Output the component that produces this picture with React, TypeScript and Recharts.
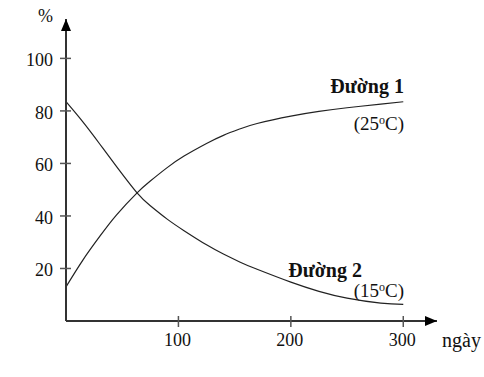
import React from 'react'
import { LineChart, Line, XAxis, YAxis } from 'recharts'

// days on the x axis, percent on the y axis
const days = [0, 15, 30, 45, 63, 75, 90, 105, 125, 140, 155, 170, 200, 225, 250, 280, 300]
const duong1 = [13, 23.2, 32.2, 40.4, 48.7, 53.3, 58.4, 62.8, 67.6, 70.7, 73.2, 75.2, 78.0, 79.8, 81.2, 82.6, 83.5]
const duong2 = [83.5, 75.8, 67.4, 58.8, 48.9, 43.9, 38.8, 34.4, 29.0, 25.5, 22.4, 19.7, 14.8, 11.3, 8.7, 6.8, 6.3]
const xTicks = [100, 200, 300]
const yTicks = [20, 40, 60, 80, 100]

const data = days.map((d, i) => ({ day: d, d1: duong1[i], d2: duong2[i] }))

const FONT = 'Liberation Serif'
const AXIS = '#333'
const textStyle = { fontFamily: FONT, fontSize: 18 }

const XTick = ({ x, y, payload }: any) => (
  <g>
    <line x1={x} x2={x} y1={y - 5} y2={y + 6} stroke="#555" strokeWidth={1.5} />
    <text x={x - 1} y={y + 25} textAnchor="middle" style={textStyle} fill="#111">
      {payload.value}
    </text>
  </g>
)

const YTick = ({ x, y, payload }: any) => (
  <g>
    <line x1={x - 6} x2={x + 5} y1={y} y2={y} stroke="#555" strokeWidth={1.5} />
    <text x={x - 13} y={y + 8} textAnchor="end" style={textStyle} fill="#111">
      {payload.value}
    </text>
  </g>
)

export default function App() {
  return (
    <div style={{ position: 'absolute', left: 0, top: 0, width: 484, height: 377, background: '#fff' }}>
      <LineChart width={484} height={377} data={data} margin={{ top: 19, right: 47, bottom: 26, left: 0 }}>
        <defs>
          <marker
            id="arrowHead"
            markerUnits="userSpaceOnUse"
            markerWidth={12}
            markerHeight={10}
            viewBox="0 0 12 10"
            refX={12}
            refY={5}
            orient="auto-start-reverse"
          >
            <path d="M0,0 L12,5 L0,10 z" fill="#000" />
          </marker>
        </defs>
        <XAxis
          dataKey="day"
          type="number"
          domain={[0, 330]}
          ticks={xTicks}
          height={30}
          tickSize={0}
          tickMargin={0}
          tickLine={false}
          tick={XTick}
          axisLine={{ stroke: AXIS, strokeWidth: 2, markerEnd: 'url(#arrowHead)' }}
        />
        <YAxis
          type="number"
          domain={[0, 115]}
          ticks={yTicks}
          width={66}
          tickSize={0}
          tickMargin={0}
          tickLine={false}
          tick={YTick}
          axisLine={{ stroke: AXIS, strokeWidth: 2, markerStart: 'url(#arrowHead)' }}
        />
        <Line type="natural" dataKey="d1" stroke="#222" strokeWidth={1.2} dot={false} isAnimationActive={false} />
        <Line type="natural" dataKey="d2" stroke="#222" strokeWidth={1.2} dot={false} isAnimationActive={false} />
      </LineChart>

      {/* labels */}
      <svg width={484} height={377} style={{ position: 'absolute', left: 0, top: 0, pointerEvents: 'none' }}>
        <g style={textStyle} fill="#111">
          <text x={38} y={22}>%</text>
          <text x={442} y={347} fontSize={20}>ngày</text>
          <text x={404} y={93} textAnchor="end" fontWeight="bold" fontSize={20}>Đường 1</text>
          <text x={404} y={130} textAnchor="end" fontSize={19}>
            (25<tspan fontSize={12} dy={-6}>o</tspan><tspan dy={6}>C)</tspan>
          </text>
          <text x={362} y={277} textAnchor="end" fontWeight="bold" fontSize={20}>Đường 2</text>
          <text x={404} y={297} textAnchor="end" fontSize={19}>
            (15<tspan fontSize={12} dy={-6}>o</tspan><tspan dy={6}>C)</tspan>
          </text>
        </g>
      </svg>
    </div>
  )
}
